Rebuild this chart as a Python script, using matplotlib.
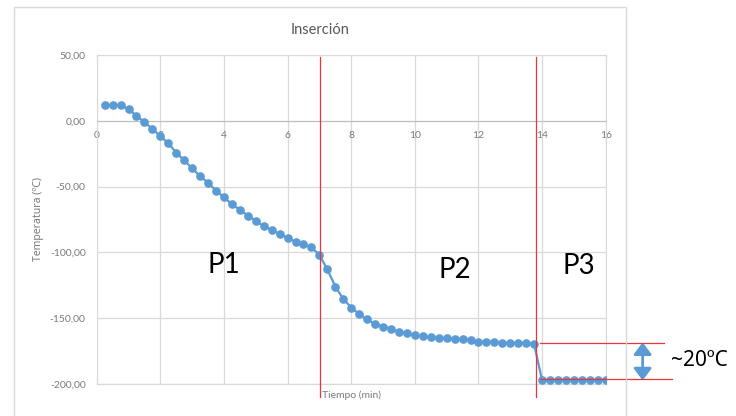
import matplotlib.pyplot as plt
from matplotlib.patches import Rectangle
from matplotlib.ticker import FuncFormatter

plt.rcParams['font.family'] = ['Lato', 'DejaVu Sans']

# tiempo (min) y temperatura (ºC)
tiempo = [0.25, 0.5, 0.75, 1.0, 1.25, 1.5, 1.75, 2.0, 2.25, 2.5, 2.75, 3.0,
          3.25, 3.5, 3.75, 4.0, 4.25, 4.5, 4.75, 5.0, 5.25, 5.5, 5.75, 6.0,
          6.25, 6.5, 6.75, 7.0, 7.25, 7.5, 7.75, 8.0, 8.25, 8.5, 8.75, 9.0,
          9.25, 9.5, 9.75, 10.0, 10.25, 10.5, 10.75, 11.0, 11.25, 11.5, 11.75, 12.0,
          12.25, 12.5, 12.75, 13.0, 13.25, 13.5, 13.75, 14.0, 14.25, 14.5, 14.75, 15.0,
          15.25, 15.5, 15.75, 16.0]
temperatura = [12, 12, 12, 9, 4, -1, -6, -11.5, -17, -24, -30, -36,
               -42, -47, -53, -58, -63.5, -67.5, -72, -76, -80, -83, -86, -89,
               -92, -94, -96, -102, -113, -126, -135.5, -142, -147, -151, -154.5, -156.5,
               -158, -160.5, -161.5, -163, -164, -164.5, -165, -165.5, -166, -166, -167, -168,
               -168, -168, -169, -169, -169, -169, -170, -197.5, -197, -197, -197, -197,
               -197, -197, -197, -197]

limites_fase = [7.02, 13.82]
fases = ['P1', 'P2', 'P3']

grid_c = '#d9d9d9'
txt_c = '#595959'
tick_c = '#7a7a7a'
azul = '#5b9bd5'
rojo = '#e8373a'

fig = plt.figure(figsize=(7.36, 4.16), dpi=100)
# marco del grafico
fig.patches.append(Rectangle((14 / 736, -0.1), 612 / 736, 1.1 - 7 / 416,
                             transform=fig.transFigure, fill=False,
                             edgecolor=grid_c, lw=1))
ax = fig.add_axes([0.1314, 0.0776, 0.6916, 0.7894])

ax.plot(tiempo, temperatura, color=azul, lw=1.6, marker='o', ms=5.2, zorder=4)

ax.set_xlim(0, 16)
ax.set_ylim(-200, 50)
ax.set_xticks(range(0, 17, 2))
ax.set_yticks([50, 0, -50, -100, -150, -200])
ax.yaxis.set_major_formatter(FuncFormatter(lambda v, p: f'{v:.2f}'.replace('.', ',')))
ax.grid(True, color=grid_c, lw=0.9)
ax.set_axisbelow(True)
for s in ['top', 'left', 'right']:
    ax.spines[s].set_color(grid_c)
ax.spines['bottom'].set_position(('data', 0))
ax.spines['bottom'].set_color('#bfbfbf')
ax.axhline(-200, color=grid_c, lw=0.9, clip_on=False)
ax.tick_params(length=0, labelsize=7.5, colors=tick_c)
ax.tick_params(axis='x', pad=7.5)
ax.tick_params(axis='y', pad=8)

fig.text(320 / 736, 1 - 30 / 416, 'Inserción', ha='center', va='center',
         fontsize=10.5, color=txt_c)
fig.text(351 / 736, 1 - 395 / 416, 'Tiempo (min)', ha='center', va='center',
         fontsize=7.5, color=tick_c)
fig.text(38 / 736, 1 - 219 / 416, 'Temperatura (ºC)', ha='center', va='center',
         rotation=90, fontsize=7.5, color=tick_c, family=['Noto Sans', 'DejaVu Sans'])

# lineas de fase
for xl in limites_fase:
    ax.plot([xl, xl], [48.5, -210], color=rojo, lw=0.9, clip_on=False, zorder=5)

nivel_p2 = temperatura[tiempo.index(13.75)]
nivel_p3 = temperatura[-1]
ax.plot([13.94, 17.83], [nivel_p2 + 1, nivel_p2 + 1], color=rojo, lw=0.9, clip_on=False, zorder=5)
ax.plot([13.94, 18.08], [nivel_p3 + 0.5, nivel_p3 + 0.5], color=rojo, lw=0.9, clip_on=False, zorder=5)
ax.annotate('', xy=(17.16, nivel_p3 - 0.5), xytext=(17.16, nivel_p2 + 1.5),
            arrowprops=dict(arrowstyle='<|-|>,head_length=0.6,head_width=0.45',
                            color=azul, lw=2, mutation_scale=12, shrinkA=0, shrinkB=0),
            annotation_clip=False)
ax.text(18.04, -182.7, '~20ºC', ha='left', va='center', fontsize=15, color='black',
        family=['Noto Sans', 'DejaVu Sans'])

for nombre, xp, yp in zip(fases, [4.0, 11.26, 15.16], [-110, -113.4, -110.4]):
    ax.text(xp, yp, nombre, ha='center', va='center', fontsize=20, color='black')

plt.savefig('out.png', dpi=100)
